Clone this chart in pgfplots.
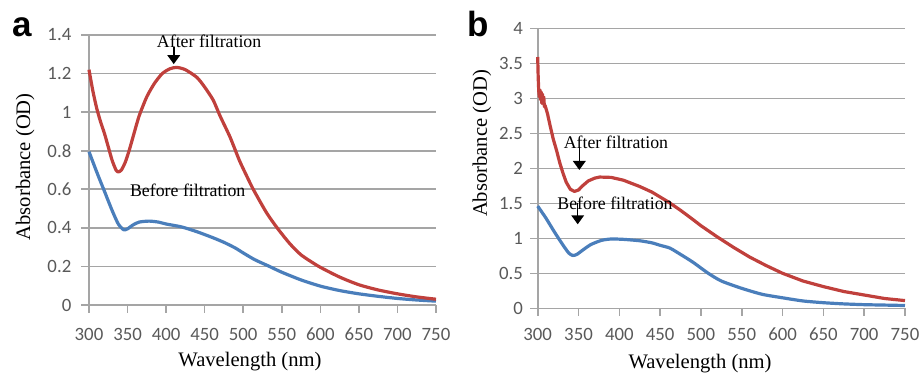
\documentclass[border=0pt]{standalone}
\usepackage{pgfplots}
\pgfplotsset{compat=1.18}
\usetikzlibrary{arrows.meta}
\usepackage{fontspec}
\setmainfont{Liberation Serif}
\newfontfamily\tickfont{Carlito}
\newfontfamily\labfont{Liberation Serif}
\newfontfamily\letterfont{Liberation Sans}
\definecolor{exred}{RGB}{192,64,60}
\definecolor{exblue}{RGB}{74,126,187}
\definecolor{tickgray}{RGB}{89,89,89}
\definecolor{gridgray}{RGB}{165,165,165}
\pgfkeys{/pgf/number format/assume math mode=true}

\pgfplotsset{common/.style={
  scale only axis, anchor=south west,
  xmin=300, xmax=750, xtick={300,350,400,450,500,550,600,650,700,750},
  axis x line=bottom, axis y line=left,
  axis line style={gridgray, line width=0.8pt, -},
  ymajorgrids, grid style={gridgray, line width=0.8pt},
  tick align=outside, major tick length=3.8pt,
  tick style={gridgray, line width=0.8pt},
  xticklabel style={font=\fontsize{9.4}{10}\tickfont, text=tickgray, inner sep=0pt},
  yticklabel style={font=\fontsize{9.4}{10}\tickfont, text=tickgray, inner sep=0pt},
  clip=false,
  every axis plot/.append style={line width=1.6pt, line join=round},
}}
\tikzset{ann/.style={font=\fontsize{8.9}{10}\labfont, inner sep=0pt},
  arr/.style={-{Triangle[length=4.5pt,width=6.3pt]}, line width=0.8pt, black}}

\begin{document}
\begin{tikzpicture}
\path[use as bounding box] (0,0) rectangle (460.5pt,188pt);

% Panel a
\begin{axis}[common, at={(44.5pt,35.5pt)}, width=173.5pt, height=135pt,
  ymin=0, ymax=1.4, ytick={0,0.2,0.4,0.6,0.8,1,1.2,1.4},
  xticklabel shift=7.4pt, yticklabel shift=4.85pt,
  xlabel={\labfont Wavelength (nm)}, ylabel={\labfont Absorbance (OD)},
  xlabel style={at={(axis description cs:0.464,-0.21)}, anchor=center, inner sep=0pt, font=\fontsize{10.3}{12}\labfont},
  ylabel style={at={(axis description cs:-0.184,0.512)}, anchor=center, inner sep=0pt, font=\fontsize{10.3}{12}\labfont}]
\addplot[exblue, no marks, smooth, tension=0.4] coordinates {
(300,0.795) (310,0.69) (321,0.58) (330,0.49) (338,0.42) (345,0.39) (350,0.395)
(357,0.415) (365,0.43) (378,0.435) (390,0.43) (400,0.42) (420,0.405) (440,0.38)
(460,0.35) (475,0.325) (490,0.295) (500,0.27) (515,0.235) (534,0.2) (550,0.17)
(575,0.13) (600,0.098) (625,0.075) (650,0.058) (675,0.045) (700,0.034) (725,0.026) (750,0.02)};
\addplot[exred, no marks, smooth, tension=0.4] coordinates {
(300,1.22) (305,1.11) (310,1.02) (315,0.95) (320,0.89) (325,0.82) (330,0.75)
(335,0.70) (338,0.69) (342,0.70) (347,0.74) (352,0.80) (357,0.87) (365,0.98)
(375,1.08) (385,1.15) (395,1.20) (405,1.225) (414,1.232) (425,1.22) (440,1.18)
(450,1.13) (461,1.063) (470,0.98) (483,0.87) (495,0.75) (505,0.665) (513,0.6)
(530,0.48) (544,0.4) (560,0.32) (575,0.26) (598,0.2) (625,0.145) (650,0.105)
(675,0.078) (700,0.058) (725,0.042) (750,0.03)};
\node[ann] at (axis cs:455.8,1.365) {After filtration};
\draw[arr] (axis cs:409.9,1.339) -- (axis cs:409.9,1.249);
\node[ann] at (axis cs:428,0.593) {Before filtration};
\end{axis}

% Panel b
\begin{axis}[common, at={(268.85pt,33.85pt)}, width=183.65pt, height=140pt,
  ymin=0, ymax=4, ytick={0,0.5,1,1.5,2,2.5,3,3.5,4},
  xticklabel shift=5.8pt, yticklabel shift=3.4pt,
  xlabel={\labfont Wavelength (nm)}, ylabel={\labfont Absorbance (OD)},
  xlabel style={at={(axis description cs:0.442,-0.196)}, anchor=center, inner sep=0pt, font=\fontsize{10.3}{12}\labfont},
  ylabel style={at={(axis description cs:-0.152,0.589)}, anchor=center, inner sep=0pt, font=\fontsize{10.3}{12}\labfont}]
\addplot[exblue, no marks, smooth, tension=0.4] coordinates {
(300,1.46) (310,1.29) (320,1.1) (330,0.92) (338,0.79) (343,0.755) (348,0.77)
(355,0.83) (365,0.91) (378,0.97) (390,0.99) (405,0.985) (425,0.965) (440,0.935)
(450,0.9) (462,0.86) (475,0.77) (490,0.66) (509,0.5) (525,0.39) (550,0.285)
(575,0.2) (600,0.15) (625,0.105) (650,0.08) (675,0.063) (700,0.052) (725,0.046) (750,0.04)};
\addplot[exred, no marks] coordinates {
(300,3.59) (300.6,3.3) (301.3,3.1) (302,3.02) (302.8,3.12) (303.5,2.98) (304.3,3.09)
(305,2.93) (305.8,3.06) (306.6,2.92) (307.4,3.02) (308.2,2.88) (309,2.9)
(312,2.78) (315,2.62) (319,2.42) (323,2.26) (327,2.08) (331,1.93) (335,1.8)
(340,1.7) (345,1.67) (350,1.69) (355,1.75) (362,1.82) (370,1.86) (376,1.875)
(390,1.87) (405,1.83) (425,1.74) (440,1.66) (450,1.59) (460,1.52) (475,1.40)
(490,1.27) (500,1.18) (520,1.02) (540,0.87) (560,0.73) (580,0.61) (600,0.5)
(625,0.39) (650,0.31) (675,0.24) (700,0.19) (725,0.14) (750,0.11)};
\node[ann] at (axis cs:395.9,2.37) {After filtration};
\draw[arr] (axis cs:351,2.31) -- (axis cs:351,1.976);
\node[ann] at (axis cs:394.7,1.5) {Before filtration};
\draw[arr] (axis cs:349,1.5) -- (axis cs:349,1.2);
\end{axis}

\node[anchor=base west, inner sep=0pt, font=\fontsize{17.5}{18}\letterfont\bfseries] at (5.85pt,169.65pt) {a};
\node[anchor=base west, inner sep=0pt, font=\fontsize{17.5}{18}\letterfont\bfseries] at (233.35pt,169.65pt) {b};
\end{tikzpicture}
\end{document}
